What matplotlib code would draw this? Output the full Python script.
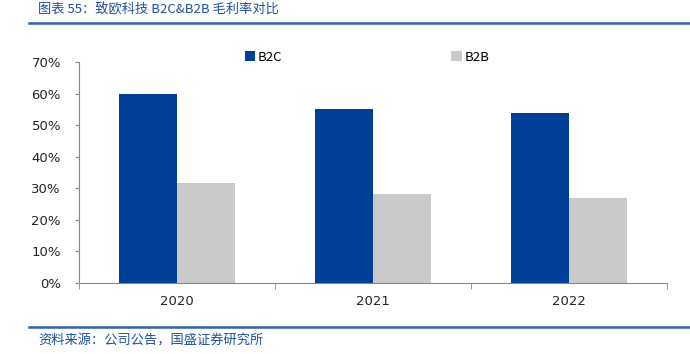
import matplotlib.pyplot as plt
import numpy as np

plt.rcParams['font.family'] = ['Noto Sans CJK SC', 'DejaVu Sans']

years = ['2020', '2021', '2022']
b2c = [0.60, 0.551, 0.537]
b2b = [0.317, 0.281, 0.268]

blue = '#003f97'
gray = '#cacaca'

fig = plt.figure(figsize=(6.9, 3.54), dpi=100)
ax = fig.add_axes([0.1145, 0.2006, 0.8525, 0.6244])

x = np.arange(len(years))
w = 0.295
ax.bar(x - w / 2, b2c, width=w, color=blue, label='B2C')
ax.bar(x + w / 2, b2b, width=w, color=gray, label='B2B')

ax.set_xlim(-0.5, 2.5)
ax.set_ylim(0, 0.7)
ax.set_yticks(np.arange(0, 0.71, 0.1))
ax.set_yticklabels(['{:.0f}%'.format(v * 100) for v in np.arange(0, 0.71, 0.1)],
                   fontsize=9.5, family='DejaVu Sans', color='#222222')
ax.set_xticks(x)
ax.set_xticklabels(years, fontsize=9.5, family='DejaVu Sans', color='#222222')
ax.set_xticks([-0.5, 0.5, 1.5, 2.5], minor=True)
ax.tick_params(axis='x', which='major', length=0, pad=9)
ax.tick_params(axis='x', which='minor', length=4, color='#888888', direction='out')
ax.tick_params(axis='y', length=3, color='#888888', direction='out', pad=10)

for s in ['top', 'right']:
    ax.spines[s].set_visible(False)
for s in ['left', 'bottom']:
    ax.spines[s].set_color('#888888')
    ax.spines[s].set_linewidth(0.8)

leg = ax.legend(loc='center', bbox_to_anchor=(0.49, 1.022), ncol=2, frameon=False,
                fontsize=9.5, handlelength=0.8, handleheight=0.8, handletextpad=0.2,
                columnspacing=12.8)

fig.text(38 / 690, 1 - 10 / 354, '图表 55：致欧科技 B2C&B2B 毛利率对比', color='#1f4f9f',
         fontsize=9.5, va='center', ha='left', style='italic')
fig.add_artist(plt.Line2D([29 / 690, 1], [1 - 23 / 354, 1 - 23 / 354], color='#2e5fa8', lw=1.8))
fig.add_artist(plt.Line2D([29 / 690, 1], [1 - 327 / 354, 1 - 327 / 354], color='#2e5fa8', lw=1.8))
fig.text(38 / 690, 1 - 341 / 354, '资料来源：公司公告，国盛证券研究所', color='#1f4f9f',
         fontsize=9.5, va='center', ha='left', style='italic')

fig.savefig('out.png', dpi=100)
